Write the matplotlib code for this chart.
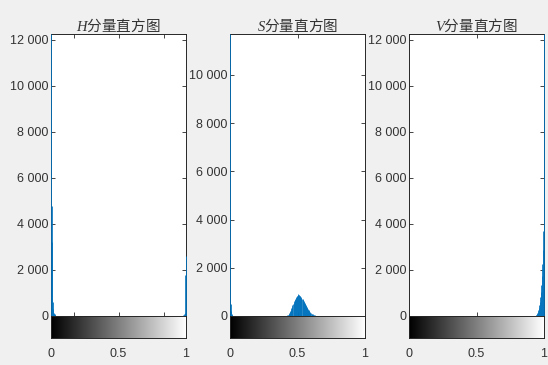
import numpy as np
import matplotlib
matplotlib.use("Agg")
import matplotlib.pyplot as plt
from matplotlib.ticker import FuncFormatter

plt.rcParams['font.family'] = ['Liberation Sans', 'DejaVu Sans']
plt.rcParams['mathtext.fontset'] = 'custom'
plt.rcParams['mathtext.it'] = 'Liberation Serif:italic'
plt.rcParams['mathtext.rm'] = 'Liberation Serif'

NBINS = 256
titles = ['H', 'S', 'V']

# nonzero histogram bins (bin index 0..255) and counts
h_bins = [0, 1, 2, 3, 4, 5, 6, 7, 8, 250, 251, 252, 253, 254, 255]
h_counts = [12250, 4800, 3200, 600, 300, 150, 100, 80, 50, 40, 60, 90, 120, 1800, 2600]

s_bins_low = [0, 1, 2, 3, 4]
s_counts_low = [11700, 480, 200, 80, 40]
s_bump_start = 105
s_bump_counts = [10, 15, 20, 30, 45, 60, 80, 110, 150, 200,
                 260, 320, 380, 440, 500, 560, 610, 650, 700, 740,
                 780, 810, 840, 870, 900, 880, 860, 840, 810, 780,
                 750, 720, 690, 650, 610, 570, 530, 490, 450, 410,
                 370, 330, 300, 260, 230, 200, 170, 140, 120, 100,
                 80, 65, 50, 40, 30, 22, 15, 10, 7, 5]

v_bins = list(range(236, 256))
v_counts = [8, 12, 20, 40, 60, 90, 130, 180, 250, 340, 460, 620, 820, 1050,
            1350, 1750, 2250, 2850, 3700, 12250]

ylims = [12250, 11700, 12250]
yticks = [list(range(0, 12001, 2000)), list(range(0, 10001, 2000)), list(range(0, 12001, 2000))]
bottom_ticks = [[1/6, 0.5, 5/6], [0.5], [0.5]]

def full_hist(bins, counts):
    arr = np.zeros(NBINS)
    arr[np.array(bins)] = counts
    return arr

s_all_bins = s_bins_low + list(range(s_bump_start, s_bump_start + len(s_bump_counts)))
s_all_counts = s_counts_low + s_bump_counts
hists = [full_hist(h_bins, h_counts), full_hist(s_all_bins, s_all_counts), full_hist(v_bins, v_counts)]

fig = plt.figure(figsize=(5.48, 3.65), dpi=100, facecolor='#f0f0f0')
lefts = [51 / 548, 230 / 548, 409 / 548]
width = 135 / 548
ax_bottom = 1 - 316 / 365
ax_height = (316 - 34) / 365
cb_bottom = 1 - 338 / 365
cb_height = 22 / 365
spine_c = '#262626'
txt_c = '#333333'
fmt = FuncFormatter(lambda v, p: f"{int(v):,}".replace(',', ' '))
gradient = np.linspace(0, 1, 256).reshape(1, -1)

for i in range(3):
    ax = fig.add_axes([lefts[i], ax_bottom, width, ax_height])
    ax.set_facecolor('white')
    x = np.arange(NBINS) / (NBINS - 1)
    nz = hists[i] > 0
    ax.vlines(x[nz], 0, hists[i][nz], color='#0072BD', linewidth=0.6, zorder=3, clip_on=False)
    ax.set_xlim(0, 1)
    ax.set_ylim(0, ylims[i])
    ax.set_yticks(yticks[i])
    ax.yaxis.set_major_formatter(fmt)
    ax.set_xticks(bottom_ticks[i])
    ax.tick_params(axis='x', which='both', direction='in', length=3, labelbottom=False,
                   top=True, bottom=True, color=spine_c, width=0.6)
    ax.tick_params(axis='y', direction='in', length=3, right=True, labelsize=9,
                   color=spine_c, labelcolor=txt_c, width=0.6, pad=2)
    for s in ax.spines.values():
        s.set_color(spine_c)
        s.set_linewidth(0.7)
    ax.set_title(r'$' + titles[i] + r'$' + '分量直方图', fontsize=10.5,
                 family=['Noto Sans CJK SC', 'DejaVu Sans'], pad=2, color=txt_c)

    cax = fig.add_axes([lefts[i], cb_bottom, width, cb_height])
    cax.imshow(gradient, cmap='gray', aspect='auto', extent=[0, 1, 0, 1])
    cax.set_xlim(0, 1)
    cax.set_yticks([])
    cax.set_xticks([0, 0.5, 1])
    cax.set_xticklabels(['0', '0.5', '1'])
    cax.tick_params(axis='x', length=0, labelsize=9, pad=7, labelcolor=txt_c)
    for s in cax.spines.values():
        s.set_color(spine_c)
        s.set_linewidth(0.7)

fig.savefig('out.png', dpi=100, facecolor=fig.get_facecolor())
